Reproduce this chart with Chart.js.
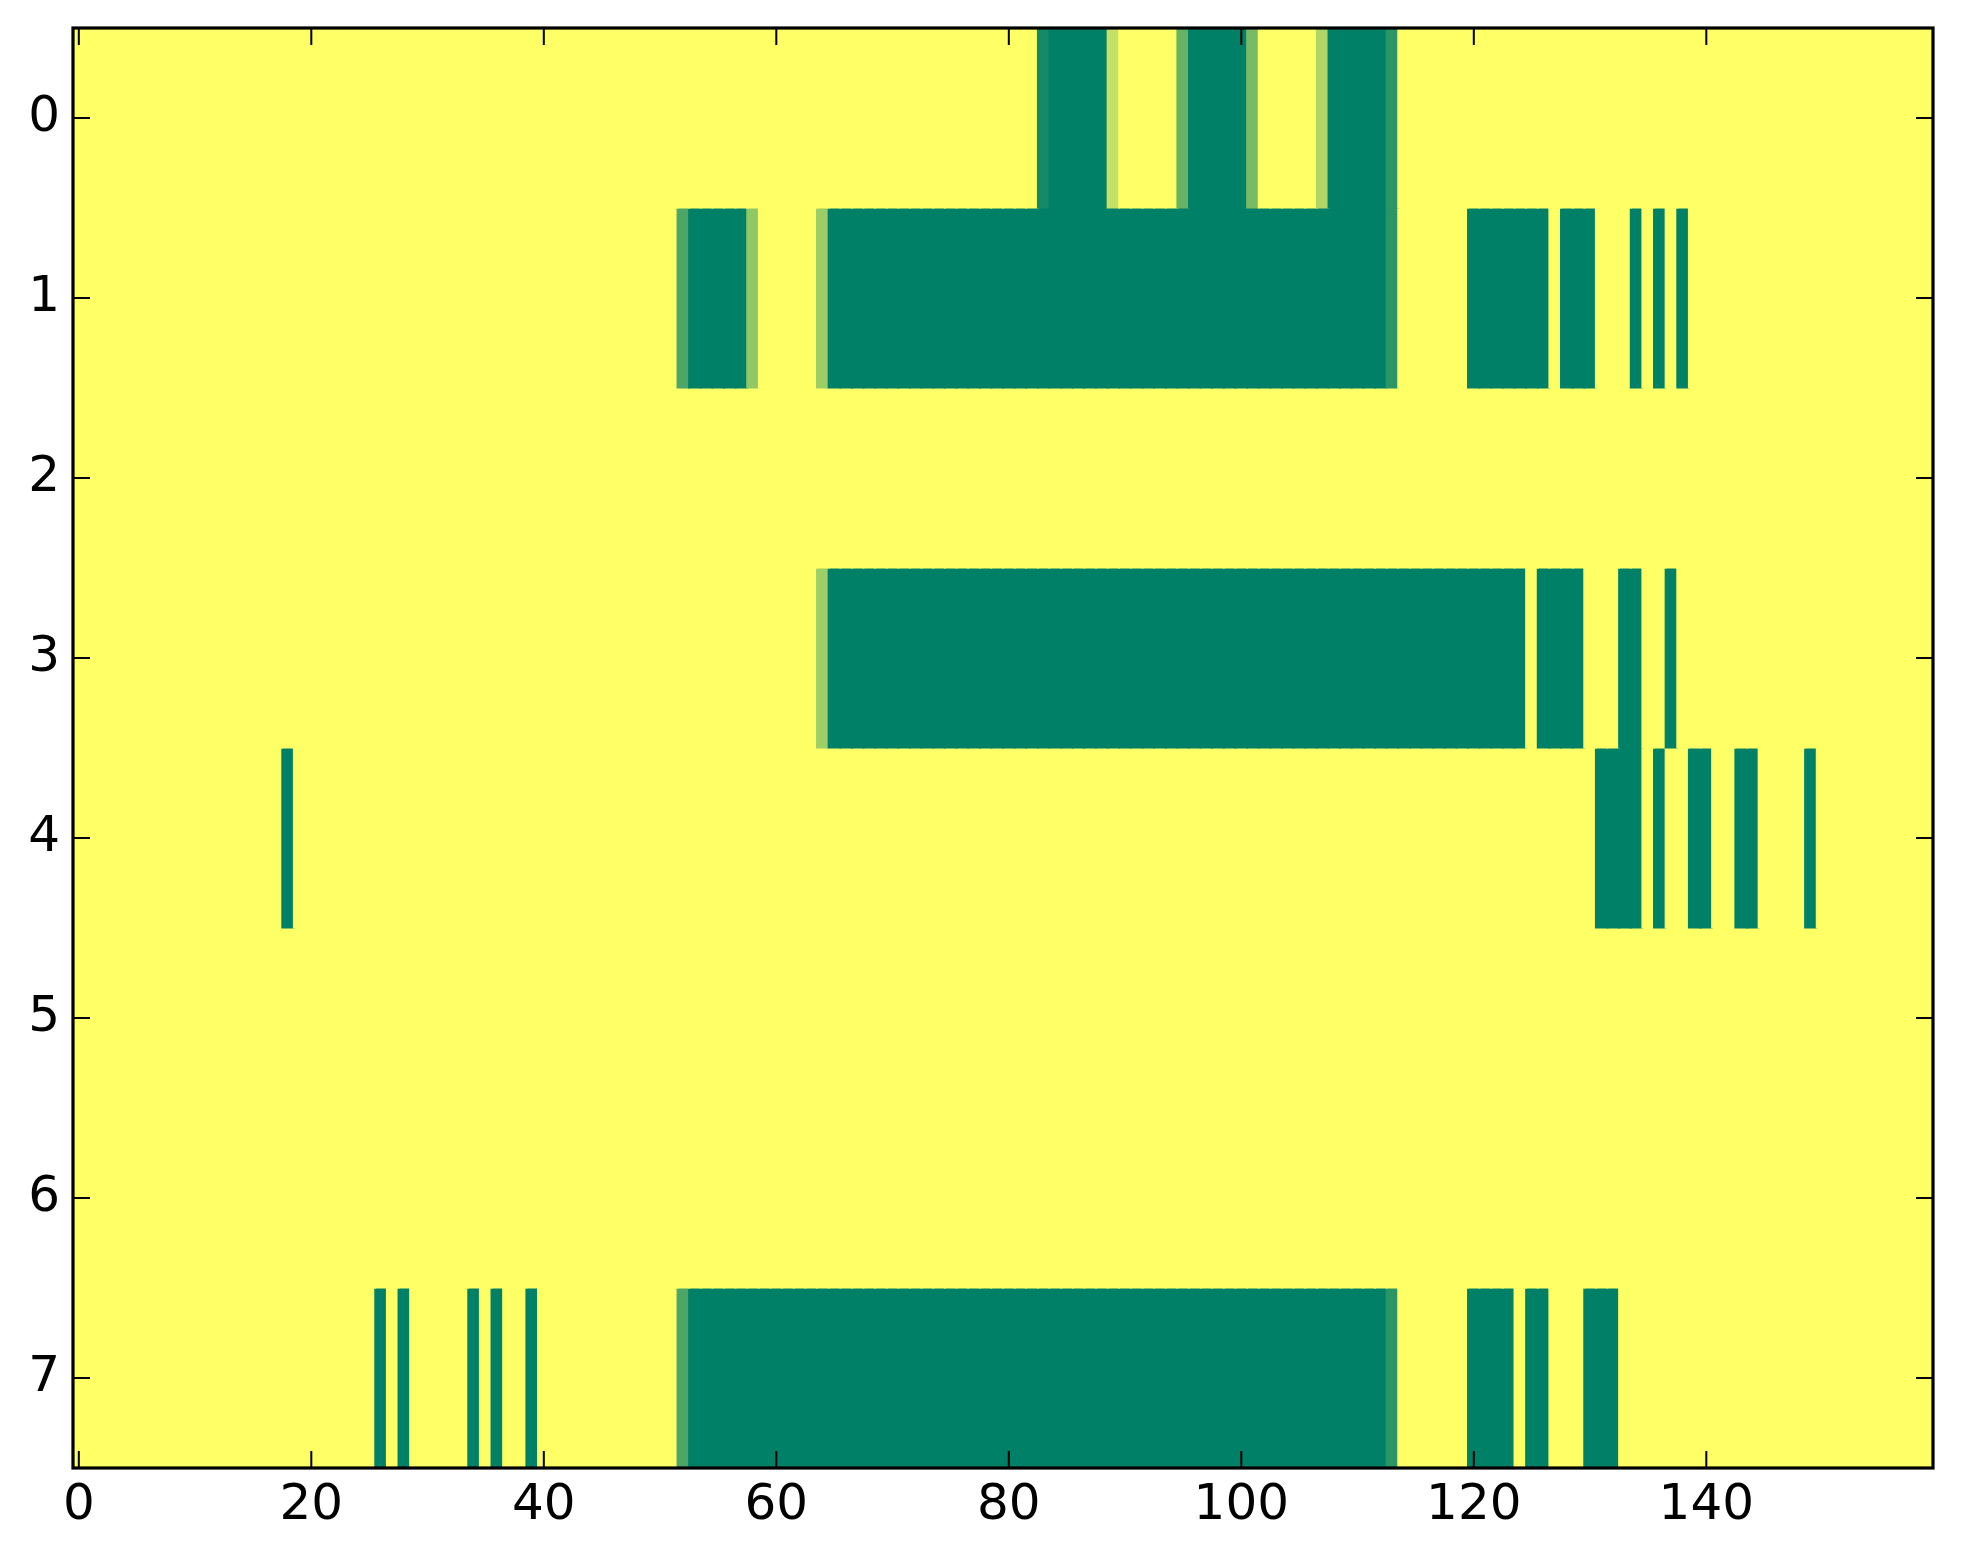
<!DOCTYPE html>
<html>
<head>
<meta charset="utf-8">
<script src="https://cdn.jsdelivr.net/npm/chart.js@4.4.1/dist/chart.umd.min.js"></script>
<style>
  html, body { margin: 0; padding: 0; background: #ffffff; }
  #wrap { width: 1963px; height: 1564px; }
</style>
</head>
<body>
<div id="wrap"><canvas id="myChart" width="1963" height="1564"></canvas></div>
<script>
// cell values per row (0 = green, 1 = yellow), 160 columns each
const row0 = [
  1,1,1,1,1,1,1,1,1,1,1,1,1,1,1,1,1,1,1,1,
  1,1,1,1,1,1,1,1,1,1,1,1,1,1,1,1,1,1,1,1,
  1,1,1,1,1,1,1,1,1,1,1,1,1,1,1,1,1,1,1,1,
  1,1,1,1,1,1,1,1,1,1,1,1,1,1,1,1,1,1,1,1,
  1,1,1,.08,0,0,0,0,0,.77,1,1,1,1,1,.4,0,0,0,0,
  0,.47,1,1,1,1,1,.69,0,0,0,0,0,.17,1,1,1,1,1,1,
  1,1,1,1,1,1,1,1,1,1,1,1,1,1,1,1,1,1,1,1,
  1,1,1,1,1,1,1,1,1,1,1,1,1,1,1,1,1,1,1,1
];
const row1 = [
  1,1,1,1,1,1,1,1,1,1,1,1,1,1,1,1,1,1,1,1,
  1,1,1,1,1,1,1,1,1,1,1,1,1,1,1,1,1,1,1,1,
  1,1,1,1,1,1,1,1,1,1,1,1,.3,0,0,0,0,0,.57,1,
  1,1,1,1,.61,0,0,0,0,0,0,0,0,0,0,0,0,0,0,0,
  0,0,0,0,0,0,0,0,0,0,0,0,0,0,0,0,0,0,0,0,
  0,0,0,0,0,0,0,0,0,0,0,0,0,.17,1,1,1,1,1,1,
  0,0,0,0,0,0,0,1,0,0,0,1,1,1,0,1,0,1,0,1,
  1,1,1,1,1,1,1,1,1,1,1,1,1,1,1,1,1,1,1,1
];
const row2 = [
  1,1,1,1,1,1,1,1,1,1,1,1,1,1,1,1,1,1,1,1,
  1,1,1,1,1,1,1,1,1,1,1,1,1,1,1,1,1,1,1,1,
  1,1,1,1,1,1,1,1,1,1,1,1,1,1,1,1,1,1,1,1,
  1,1,1,1,1,1,1,1,1,1,1,1,1,1,1,1,1,1,1,1,
  1,1,1,1,1,1,1,1,1,1,1,1,1,1,1,1,1,1,1,1,
  1,1,1,1,1,1,1,1,1,1,1,1,1,1,1,1,1,1,1,1,
  1,1,1,1,1,1,1,1,1,1,1,1,1,1,1,1,1,1,1,1,
  1,1,1,1,1,1,1,1,1,1,1,1,1,1,1,1,1,1,1,1
];
const row3 = [
  1,1,1,1,1,1,1,1,1,1,1,1,1,1,1,1,1,1,1,1,
  1,1,1,1,1,1,1,1,1,1,1,1,1,1,1,1,1,1,1,1,
  1,1,1,1,1,1,1,1,1,1,1,1,1,1,1,1,1,1,1,1,
  1,1,1,1,.62,0,0,0,0,0,0,0,0,0,0,0,0,0,0,0,
  0,0,0,0,0,0,0,0,0,0,0,0,0,0,0,0,0,0,0,0,
  0,0,0,0,0,0,0,0,0,0,0,0,0,0,0,0,0,0,0,0,
  0,0,0,0,0,1,0,0,0,0,1,1,1,0,0,1,1,0,1,1,
  1,1,1,1,1,1,1,1,1,1,1,1,1,1,1,1,1,1,1,1
];
const row4 = [
  1,1,1,1,1,1,1,1,1,1,1,1,1,1,1,1,1,1,0,1,
  1,1,1,1,1,1,1,1,1,1,1,1,1,1,1,1,1,1,1,1,
  1,1,1,1,1,1,1,1,1,1,1,1,1,1,1,1,1,1,1,1,
  1,1,1,1,1,1,1,1,1,1,1,1,1,1,1,1,1,1,1,1,
  1,1,1,1,1,1,1,1,1,1,1,1,1,1,1,1,1,1,1,1,
  1,1,1,1,1,1,1,1,1,1,1,1,1,1,1,1,1,1,1,1,
  1,1,1,1,1,1,1,1,1,1,1,0,0,0,0,1,0,1,1,0,
  0,1,1,0,0,1,1,1,1,0,1,1,1,1,1,1,1,1,1,1
];
const row5 = [
  1,1,1,1,1,1,1,1,1,1,1,1,1,1,1,1,1,1,1,1,
  1,1,1,1,1,1,1,1,1,1,1,1,1,1,1,1,1,1,1,1,
  1,1,1,1,1,1,1,1,1,1,1,1,1,1,1,1,1,1,1,1,
  1,1,1,1,1,1,1,1,1,1,1,1,1,1,1,1,1,1,1,1,
  1,1,1,1,1,1,1,1,1,1,1,1,1,1,1,1,1,1,1,1,
  1,1,1,1,1,1,1,1,1,1,1,1,1,1,1,1,1,1,1,1,
  1,1,1,1,1,1,1,1,1,1,1,1,1,1,1,1,1,1,1,1,
  1,1,1,1,1,1,1,1,1,1,1,1,1,1,1,1,1,1,1,1
];
const row6 = [
  1,1,1,1,1,1,1,1,1,1,1,1,1,1,1,1,1,1,1,1,
  1,1,1,1,1,1,1,1,1,1,1,1,1,1,1,1,1,1,1,1,
  1,1,1,1,1,1,1,1,1,1,1,1,1,1,1,1,1,1,1,1,
  1,1,1,1,1,1,1,1,1,1,1,1,1,1,1,1,1,1,1,1,
  1,1,1,1,1,1,1,1,1,1,1,1,1,1,1,1,1,1,1,1,
  1,1,1,1,1,1,1,1,1,1,1,1,1,1,1,1,1,1,1,1,
  1,1,1,1,1,1,1,1,1,1,1,1,1,1,1,1,1,1,1,1,
  1,1,1,1,1,1,1,1,1,1,1,1,1,1,1,1,1,1,1,1
];
const row7 = [
  1,1,1,1,1,1,1,1,1,1,1,1,1,1,1,1,1,1,1,1,
  1,1,1,1,1,1,0,1,0,1,1,1,1,1,0,1,0,1,1,0,
  1,1,1,1,1,1,1,1,1,1,1,1,.3,0,0,0,0,0,0,0,
  0,0,0,0,0,0,0,0,0,0,0,0,0,0,0,0,0,0,0,0,
  0,0,0,0,0,0,0,0,0,0,0,0,0,0,0,0,0,0,0,0,
  0,0,0,0,0,0,0,0,0,0,0,0,0,.17,1,1,1,1,1,1,
  0,0,0,0,1,0,0,1,1,1,0,0,0,1,1,1,1,1,1,1,
  1,1,1,1,1,1,1,1,1,1,1,1,1,1,1,1,1,1,1,1
];

const rows = [row0, row1, row2, row3, row4, row5, row6, row7];
const xTicks = [0, 20, 40, 60, 80, 100, 120, 140];
const yTicks = [0, 1, 2, 3, 4, 5, 6, 7];

// matplotlib "summer" colormap
function summer(v) {
  const r = Math.round(255 * v);
  const g = Math.round(255 * (0.5 + 0.5 * v));
  return `rgb(${r},${g},102)`;
}

const datasets = rows.map((vals, r) => ({
  label: 'row ' + r,
  data: vals.map((v, c) => ({ x: c, y: [r - 0.5, r + 0.5], v: v })),
  backgroundColor: ctx => summer(ctx.raw ? ctx.raw.v : 1),
  borderWidth: 0,
  inflateAmount: 0.5,
  barPercentage: 1.08,
  categoryPercentage: 1,
  grouped: false
}));

// frame + inward ticks on all four sides (classic matplotlib look)
const frameTicks = {
  id: 'frameTicks',
  afterDraw(chart) {
    const { ctx, chartArea: a, scales } = chart;
    const len = 17;
    ctx.save();
    ctx.strokeStyle = '#000';
    ctx.lineWidth = 2;
    ctx.beginPath();
    xTicks.forEach(t => {
      const px = scales.x.getPixelForValue(t);
      ctx.moveTo(px, a.bottom); ctx.lineTo(px, a.bottom - len);
      ctx.moveTo(px, a.top); ctx.lineTo(px, a.top + len);
    });
    yTicks.forEach(t => {
      const py = scales.y.getPixelForValue(t);
      ctx.moveTo(a.left, py); ctx.lineTo(a.left + len, py);
      ctx.moveTo(a.right, py); ctx.lineTo(a.right - len, py);
    });
    ctx.stroke();
    ctx.lineWidth = 3.2;
    ctx.strokeRect(a.left, a.top, a.right - a.left, a.bottom - a.top);
    ctx.restore();
  }
};

const tickFont = { family: "'DejaVu Sans', sans-serif", size: 50 };

new Chart(document.getElementById('myChart'), {
  type: 'bar',
  data: { datasets: datasets },
  options: {
    responsive: false,
    animation: false,
    devicePixelRatio: 1,
    layout: { padding: { left: 0, top: 28, right: 30, bottom: 0 } },
    plugins: { legend: { display: false }, tooltip: { enabled: false } },
    scales: {
      x: {
        type: 'linear',
        min: -0.5,
        max: 159.5,
        offset: false,
        grid: { display: false, drawTicks: false },
        border: { display: false },
        afterBuildTicks: s => { s.ticks = xTicks.map(v => ({ value: v })); },
        afterFit: s => { s.height = 96; s.paddingLeft = 0; s.paddingRight = 0; },
        ticks: { font: tickFont, color: '#000', padding: 8, maxRotation: 0, autoSkip: false }
      },
      y: {
        type: 'linear',
        reverse: true,
        min: -0.5,
        max: 7.5,
        grid: { display: false, drawTicks: false },
        border: { display: false },
        afterBuildTicks: s => { s.ticks = yTicks.map(v => ({ value: v })); },
        afterFit: s => { s.width = 73; s.paddingTop = 0; s.paddingBottom = 0; },
        ticks: { font: tickFont, color: '#000', padding: 13, autoSkip: false }
      }
    }
  },
  plugins: [frameTicks]
});
</script>
</body>
</html>
